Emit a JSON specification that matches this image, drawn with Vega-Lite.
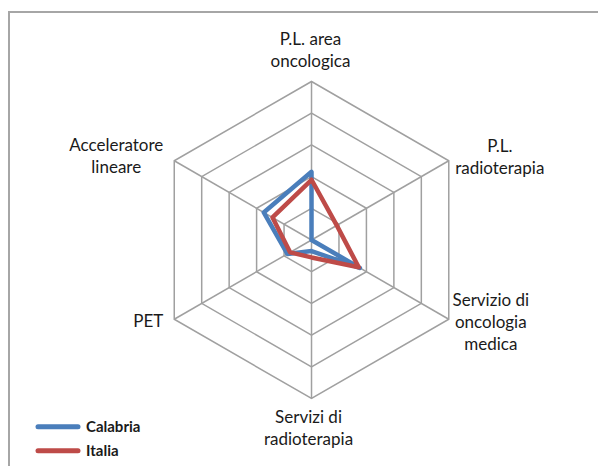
{
  "$schema": "https://vega.github.io/schema/vega-lite/v6.json",
  "width": 592,
  "height": 457,
  "autosize": {"type": "none"},
  "padding": {"left": 9, "top": 12, "right": -3, "bottom": -3},
  "background": "white",
  "config": {
    "view": {"stroke": "#a6a6a6", "strokeWidth": 2},
    "font": "Lato",
    "text": {"font": "Lato", "fontSize": 17, "lineHeight": 22, "color": "#1a1a1a"}
  },
  "datasets": {
    "axes": [
      {"i": 0, "label": "P.L. area\noncologica"},
      {"i": 1, "label": "P.L.\nradioterapia"},
      {"i": 2, "label": "Servizio di\noncologia\nmedica"},
      {"i": 3, "label": "Servizi di\nradioterapia"},
      {"i": 4, "label": "PET"},
      {"i": 5, "label": "Acceleratore\nlineare"}
    ],
    "grid": [
      {"level": 1, "i": 0}, {"level": 1, "i": 1}, {"level": 1, "i": 2}, {"level": 1, "i": 3}, {"level": 1, "i": 4}, {"level": 1, "i": 5},
      {"level": 2, "i": 0}, {"level": 2, "i": 1}, {"level": 2, "i": 2}, {"level": 2, "i": 3}, {"level": 2, "i": 4}, {"level": 2, "i": 5},
      {"level": 3, "i": 0}, {"level": 3, "i": 1}, {"level": 3, "i": 2}, {"level": 3, "i": 3}, {"level": 3, "i": 4}, {"level": 3, "i": 5},
      {"level": 4, "i": 0}, {"level": 4, "i": 1}, {"level": 4, "i": 2}, {"level": 4, "i": 3}, {"level": 4, "i": 4}, {"level": 4, "i": 5},
      {"level": 5, "i": 0}, {"level": 5, "i": 1}, {"level": 5, "i": 2}, {"level": 5, "i": 3}, {"level": 5, "i": 4}, {"level": 5, "i": 5}
    ],
    "scores": [
      {"series": "Calabria", "i": 0, "value": 2.15},
      {"series": "Calabria", "i": 1, "value": 0.0},
      {"series": "Calabria", "i": 2, "value": 1.76},
      {"series": "Calabria", "i": 3, "value": 0.35},
      {"series": "Calabria", "i": 4, "value": 0.88},
      {"series": "Calabria", "i": 5, "value": 1.74},
      {"series": "Italia", "i": 0, "value": 1.9},
      {"series": "Italia", "i": 1, "value": 0.92},
      {"series": "Italia", "i": 2, "value": 1.72},
      {"series": "Italia", "i": 3, "value": 0.55},
      {"series": "Italia", "i": 4, "value": 0.78},
      {"series": "Italia", "i": 5, "value": 1.42}
    ]
  },
  "encoding": {
    "x": {"field": "px", "type": "quantitative", "axis": null, "scale": {"domain": [-9.543, 9.132], "nice": false, "zero": false}},
    "y": {"field": "py", "type": "quantitative", "axis": null, "scale": {"domain": [-7.224, 7.192], "nice": false, "zero": false}}
  },
  "layer": [
    {
      "data": {"name": "grid"},
      "transform": [
        {"calculate": "datum.level * sin(datum.i * PI / 3)", "as": "px"},
        {"calculate": "datum.level * cos(datum.i * PI / 3)", "as": "py"}
      ],
      "mark": {"type": "line", "interpolate": "linear-closed", "stroke": "#a0a0a0", "strokeWidth": 1.5},
      "encoding": {"detail": {"field": "level"}, "order": {"field": "i"}}
    },
    {
      "data": {"name": "axes"},
      "transform": [
        {"calculate": "0", "as": "px"},
        {"calculate": "0", "as": "py"},
        {"calculate": "5 * sin(datum.i * PI / 3)", "as": "vx"},
        {"calculate": "5 * cos(datum.i * PI / 3)", "as": "vy"}
      ],
      "mark": {"type": "rule", "stroke": "#a0a0a0", "strokeWidth": 1.5},
      "encoding": {"x2": {"field": "vx"}, "y2": {"field": "vy"}}
    },
    {
      "data": {"name": "scores"},
      "transform": [
        {"calculate": "datum.value * sin(datum.i * PI / 3)", "as": "px"},
        {"calculate": "datum.value * cos(datum.i * PI / 3)", "as": "py"}
      ],
      "mark": {"type": "line", "interpolate": "linear-closed", "strokeWidth": 4.5, "strokeJoin": "round", "strokeCap": "round"},
      "encoding": {
        "order": {"field": "i"},
        "color": {
          "field": "series", "type": "nominal",
          "scale": {"domain": ["Calabria", "Italia"], "range": ["#4a7ebb", "#be4b48"]},
          "legend": {
            "orient": "none", "legendX": 27, "legendY": 404.7, "title": null,
            "symbolType": "M-1.0667,0H4.2667", "symbolSize": 225, "symbolStrokeWidth": 5,
            "symbolFillColor": "transparent",
            "labelFont": "Lato", "labelFontSize": 15, "labelFontWeight": "bold", "labelColor": "#1a1a1a",
            "labelOffset": 30, "rowPadding": 4, "padding": 0,
            "encode": {"symbols": {"update": {"strokeCap": {"value": "round"}}}}
          }
        }
      }
    },
    {
      "data": {"name": "axes"},
      "transform": [
        {"filter": "datum.i == 0"},
        {"calculate": "5 * sin(datum.i * PI / 3)", "as": "px"},
        {"calculate": "5 * cos(datum.i * PI / 3)", "as": "py"}
      ],
      "mark": {"type": "text", "align": "center", "baseline": "middle", "lineBreak": "\n", "dx": -1, "dy": -41},
      "encoding": {"text": {"field": "label"}}
    },
    {
      "data": {"name": "axes"},
      "transform": [
        {"filter": "datum.i == 1"},
        {"calculate": "5 * sin(datum.i * PI / 3)", "as": "px"},
        {"calculate": "5 * cos(datum.i * PI / 3)", "as": "py"}
      ],
      "mark": {"type": "text", "align": "center", "baseline": "middle", "lineBreak": "\n", "dx": 51, "dy": -14},
      "encoding": {"text": {"field": "label"}}
    },
    {
      "data": {"name": "axes"},
      "transform": [
        {"filter": "datum.i == 2"},
        {"calculate": "5 * sin(datum.i * PI / 3)", "as": "px"},
        {"calculate": "5 * cos(datum.i * PI / 3)", "as": "py"}
      ],
      "mark": {"type": "text", "align": "center", "baseline": "middle", "lineBreak": "\n", "dx": 42, "dy": -18},
      "encoding": {"text": {"field": "label"}}
    },
    {
      "data": {"name": "axes"},
      "transform": [
        {"filter": "datum.i == 3"},
        {"calculate": "5 * sin(datum.i * PI / 3)", "as": "px"},
        {"calculate": "5 * cos(datum.i * PI / 3)", "as": "py"}
      ],
      "mark": {"type": "text", "align": "center", "baseline": "middle", "lineBreak": "\n", "dx": -3, "dy": 20},
      "encoding": {"text": {"field": "label"}}
    },
    {
      "data": {"name": "axes"},
      "transform": [
        {"filter": "datum.i == 4"},
        {"calculate": "5 * sin(datum.i * PI / 3)", "as": "px"},
        {"calculate": "5 * cos(datum.i * PI / 3)", "as": "py"}
      ],
      "mark": {"type": "text", "align": "center", "baseline": "middle", "lineBreak": "\n", "dx": -26, "dy": 3},
      "encoding": {"text": {"field": "label"}}
    },
    {
      "data": {"name": "axes"},
      "transform": [
        {"filter": "datum.i == 5"},
        {"calculate": "5 * sin(datum.i * PI / 3)", "as": "px"},
        {"calculate": "5 * cos(datum.i * PI / 3)", "as": "py"}
      ],
      "mark": {"type": "text", "align": "center", "baseline": "middle", "lineBreak": "\n", "dx": -58, "dy": -15},
      "encoding": {"text": {"field": "label"}}
    }
  ]
}
